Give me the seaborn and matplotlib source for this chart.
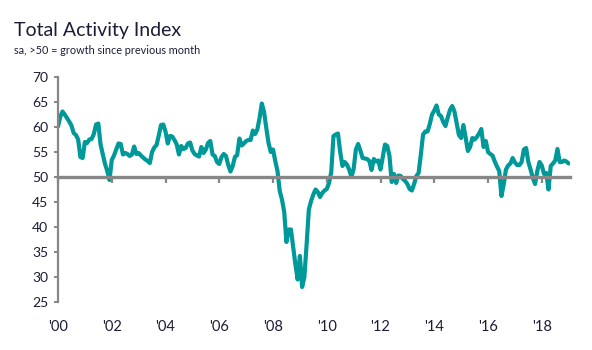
import numpy as np
import pandas as pd
import seaborn as sns
import matplotlib
matplotlib.use('Agg')
import matplotlib.pyplot as plt
from matplotlib.ticker import FuncFormatter, MultipleLocator, NullFormatter

# monthly index values, Jan 2000 onwards
idx_2000 = [60.1, 62.0, 63.1, 62.5, 61.8, 61.1, 60.3, 58.8, 58.4, 57.5, 54.0, 53.8]
idx_2001 = [57.0, 56.8, 57.5, 57.6, 58.6, 60.5, 60.7, 56.5, 54.5, 52.6, 51.2, 49.4]
idx_2002 = [53.4, 54.3, 55.5, 56.7, 56.6, 54.5, 54.8, 54.6, 54.2, 54.5, 56.1, 54.6]
idx_2003 = [54.8, 54.3, 53.9, 53.5, 53.2, 52.8, 55.0, 55.9, 56.4, 58.3, 60.4, 60.5]
idx_2004 = [59.1, 56.7, 58.2, 58.1, 57.4, 56.5, 54.5, 56.2, 55.6, 55.8, 56.7, 56.9]
idx_2005 = [55.3, 54.6, 54.3, 54.1, 56.0, 54.8, 55.5, 56.8, 57.2, 54.5, 54.2, 53.0]
idx_2006 = [52.6, 54.0, 54.6, 54.2, 52.4, 51.1, 52.2, 54.0, 54.4, 57.7, 56.3, 56.7]
idx_2007 = [57.2, 57.4, 57.4, 59.3, 58.6, 59.5, 61.8, 64.7, 63.0, 59.8, 56.8, 55.0]
idx_2008 = [55.5, 53.2, 51.2, 47.2, 45.5, 43.0, 37.0, 39.5, 39.5, 36.0, 32.5, 29.5]
idx_2009 = [34.2, 28.0, 30.0, 36.5, 43.5, 45.2, 46.5, 47.5, 47.0, 46.0, 46.8, 47.3]
idx_2010 = [47.6, 48.8, 51.0, 58.2, 58.5, 58.7, 55.0, 52.2, 53.0, 52.5, 51.5, 50.0]
idx_2011 = [51.6, 55.5, 56.6, 55.3, 53.8, 53.7, 53.6, 53.2, 51.4, 53.6, 53.1, 53.3]
idx_2012 = [51.5, 54.0, 56.5, 56.2, 54.2, 49.0, 50.6, 48.8, 50.3, 50.2, 49.6, 49.2]
idx_2013 = [48.6, 47.6, 47.3, 48.6, 50.2, 50.8, 54.5, 58.5, 59.1, 59.1, 60.6, 62.5]
idx_2014 = [63.3, 64.3, 62.5, 62.2, 61.0, 60.2, 61.9, 63.4, 64.2, 63.1, 60.8, 58.4]
idx_2015 = [57.8, 60.4, 57.9, 55.2, 56.0, 57.8, 57.5, 58.0, 58.7, 59.6, 56.0, 57.2]
idx_2016 = [55.0, 54.6, 54.3, 53.1, 52.1, 51.2, 46.2, 48.5, 51.5, 52.3, 52.7, 53.8]
idx_2017 = [52.9, 52.4, 52.4, 53.0, 55.5, 55.8, 53.0, 51.5, 49.8, 48.6, 51.2, 53.0]
idx_2018 = [52.3, 50.6, 50.8, 47.5, 52.2, 52.7, 53.3, 55.6, 53.0, 53.0, 53.3, 53.1]
idx_2019 = [52.7]

values = (idx_2000 + idx_2001 + idx_2002 + idx_2003 + idx_2004 + idx_2005 + idx_2006
          + idx_2007 + idx_2008 + idx_2009 + idx_2010 + idx_2011 + idx_2012 + idx_2013
          + idx_2014 + idx_2015 + idx_2016 + idx_2017 + idx_2018 + idx_2019)
year_pos = 2000 + np.arange(len(values)) / 12.0
df = pd.DataFrame({'year': year_pos, 'index': values})

title = 'Total Activity Index'
subtitle = 'sa, >50 = growth since previous month'

teal = '#009999'
grey = '#878787'
txt = '#1c1c36'

sns.set_style('white')
plt.rcParams['font.family'] = ['Lato', 'DejaVu Sans']

fig = plt.figure(figsize=(5.92, 3.5), dpi=100)
ax = fig.add_axes([58 / 592, 1 - 302 / 350, 512 / 592, 225 / 350])

sns.lineplot(data=df, x='year', y='index', color=teal, linewidth=3.0, ax=ax)

ax.set_xlim(2000, 2019.05)
ax.set_ylim(25, 70)
ax.yaxis.set_major_locator(MultipleLocator(5))
ax.xaxis.set_major_locator(MultipleLocator(2))
ax.xaxis.set_major_formatter(FuncFormatter(lambda v, p: "'%02d" % (int(round(v)) % 100)))
ax.set_xlabel('')
ax.set_ylabel('')

for s in ['top', 'right', 'bottom']:
    ax.spines[s].set_visible(False)
ax.spines['left'].set_color(grey)
ax.spines['left'].set_linewidth(1.6)

ax.tick_params(axis='y', direction='out', length=3, width=1.4, color=grey,
               labelsize=10, labelcolor=txt, pad=4, left=True)
ax.tick_params(axis='x', length=0, labelsize=10.5, labelcolor=txt, pad=13)

# the 50 line carries the x ticks (no labels)
sec = ax.secondary_xaxis((50 - 25) / 45.0)
sec.xaxis.set_major_locator(MultipleLocator(2))
sec.xaxis.set_major_formatter(NullFormatter())
sec.tick_params(axis='x', which='both', direction='in', length=4.5, width=1.6, color=grey,
                top=True, bottom=False, labeltop=False, labelbottom=False)
for s in ['top', 'bottom']:
    sec.spines[s].set_color(grey)
    sec.spines[s].set_linewidth(2.4)
sec.set_zorder(3)

fig.text(14 / 592, 1 - 36 / 350, title, fontsize=14, color=txt, ha='left', va='baseline')
fig.text(14 / 592, 1 - 54 / 350, subtitle, fontsize=7.8, color=txt, ha='left', va='baseline')

fig.savefig('out.png', dpi=100)
